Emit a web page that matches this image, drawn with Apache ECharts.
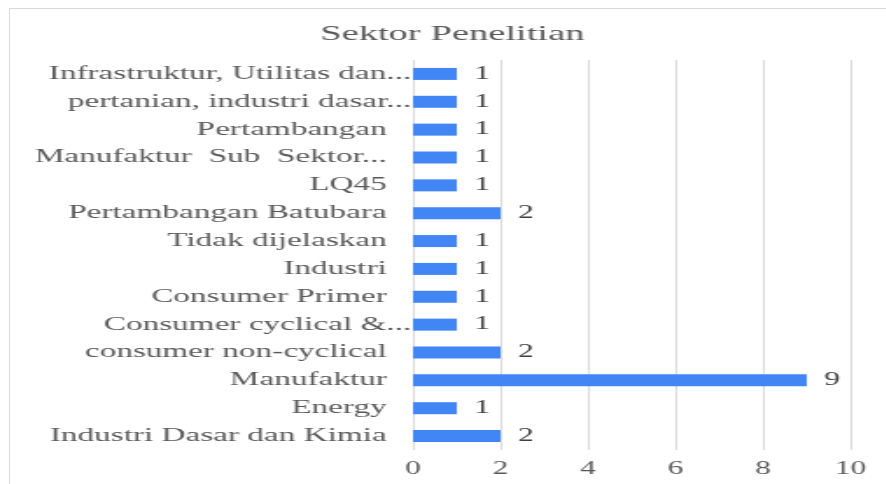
<!DOCTYPE html>
<html>
<head>
<meta charset="utf-8">
<script src="https://cdn.jsdelivr.net/npm/echarts@6/dist/echarts.min.js"></script>
<style>
    html, body { margin: 0; padding: 0; width: 886px; height: 484px; overflow: hidden; background: #fff; }
    #frame { position: absolute; left: 9px; top: 8px; width: 900px; height: 500px; border-left: 1px solid #d9d9d9; border-top: 1px solid #d9d9d9; }
    /* the original picture is stretched sideways, so the chart is drawn narrow and widened */
    #main { position: absolute; left: 0; top: 0; width: 506.3px; height: 484px; transform: scaleX(1.75); transform-origin: 0 0; }
</style>
</head>
<body>
<div id="frame"></div>
<div id="main"></div>
<script type="text/javascript">
    // data
    var sektor = [
        'Infrastruktur, Utilitas dan...',
        'pertanian, industri dasar...',
        'Pertambangan',
        'Manufaktur  Sub  Sektor...',
        'LQ45',
        'Pertambangan Batubara',
        'Tidak dijelaskan',
        'Industri',
        'Consumer Primer',
        'Consumer cyclical &...',
        'consumer non-cyclical',
        'Manufaktur',
        'Energy',
        'Industri Dasar dan Kimia'
    ];
    var jumlah = [1, 1, 1, 1, 1, 2, 1, 1, 1, 1, 2, 9, 1, 2];
    var ticks = [0, 2, 4, 6, 8, 10];
    // labels whose dots run up to the axis in the original
    var labelPanjang = ['Infrastruktur, Utilitas dan...', 'pertanian, industri dasar...', 'Consumer cyclical &...'];

    var font = "'Liberation Serif', 'Times New Roman', serif";
    var labelStyle = { fontFamily: font, fontSize: 19, color: '#595959' };
    var myChart = echarts.init(document.getElementById('main'));
    var option = {
        animation: false,
        title: {
            text: 'Sektor Penelitian',
            left: 178,
            top: 18,
            textStyle: { fontFamily: font, fontSize: 22, fontWeight: 'normal', color: '#595959' }
        },
        grid: {
            left: 236,
            right: 20,
            top: 60,
            bottom: 34,
            containLabel: false
        },
        xAxis: {
            type: 'value',
            min: ticks[0],
            max: ticks[ticks.length - 1],
            interval: 2,
            axisLine: { show: false },
            axisTick: { show: false },
            splitLine: { lineStyle: { color: '#d9d9d9', width: 1 } },
            axisLabel: { fontFamily: font, fontSize: 18, color: '#595959', margin: 10 }
        },
        yAxis: [
            {
                type: 'category',
                inverse: true,
                data: sektor,
                axisLine: { show: false },
                axisTick: { show: false },
                splitLine: { show: false },
                axisLabel: Object.assign({
                    margin: 15,
                    interval: 0,
                    formatter: function (v) { return labelPanjang.indexOf(v) >= 0 ? '' : v; }
                }, labelStyle)
            },
            {
                type: 'category',
                position: 'left',
                inverse: true,
                data: sektor,
                axisLine: { show: false },
                axisTick: { show: false },
                splitLine: { show: false },
                axisLabel: Object.assign({
                    margin: 1,
                    interval: 0,
                    formatter: function (v) { return labelPanjang.indexOf(v) >= 0 ? v : ''; }
                }, labelStyle)
            }
        ],
        series: [
            {
                type: 'bar',
                yAxisIndex: 0,
                data: jumlah,
                barWidth: 12,
                itemStyle: { color: '#4285F4' },
                label: {
                    show: true,
                    position: 'right',
                    distance: 10,
                    fontFamily: font,
                    fontSize: 18,
                    color: '#404040'
                }
            }
        ]
    };
    myChart.setOption(option);
</script>
</body>
</html>
